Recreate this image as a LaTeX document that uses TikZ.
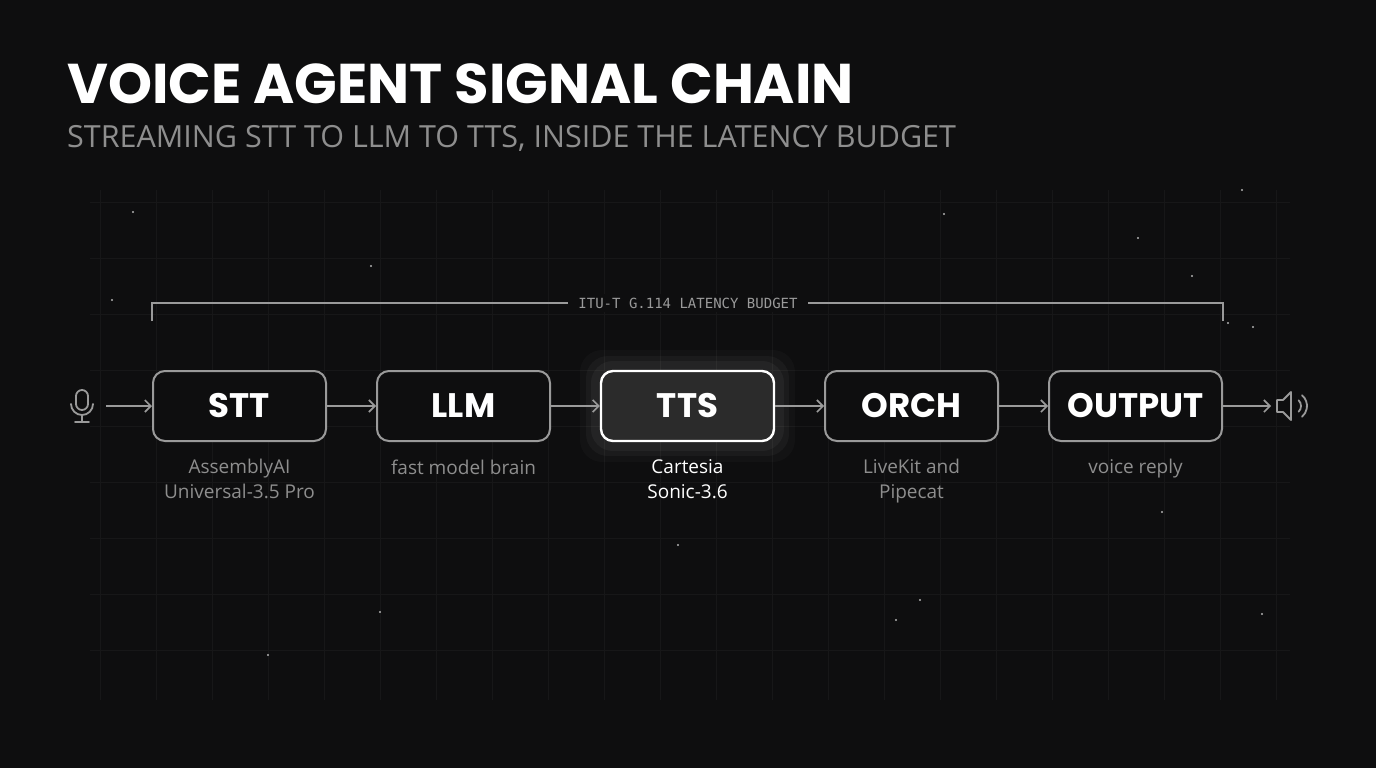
\documentclass[tikz,border=0pt]{standalone}
\usepackage{fontspec}
\setmainfont{Poppins}
\newfontfamily\monofont{DejaVu Sans Mono}
\newfontfamily\bodyfont{Open Sans}
\usetikzlibrary{positioning,calc,arrows.meta}
\definecolor{bgdark}{HTML}{0E0E0F}
\definecolor{gridgray}{HTML}{171718}
\definecolor{edgegray}{HTML}{9A9A9A}
\definecolor{subgray}{HTML}{8E8E8E}
\definecolor{hotfill}{HTML}{2B2B2B}

\tikzset{
  stage/.style={draw=edgegray, line width=2pt, rounded corners=12pt, fill=bgdark,
    minimum width=173pt, minimum height=70pt, text=white,
    font=\fontsize{34}{34}\selectfont\bfseries},
  hot/.style={stage, draw=white, fill=hotfill, line width=2.4pt},
  note/.style={below=14pt of #1, align=center, text=subgray,
    font=\bodyfont\fontsize{19}{25}\selectfont},
  flow/.style={draw=edgegray, line width=1.6pt, -{Straight Barb[length=6pt,width=12pt]}},
  icon/.style={draw=edgegray, line width=1.8pt, line cap=round}
}

\begin{document}
\begin{tikzpicture}[x=1pt,y=-1pt]
  \fill[bgdark] (0,0) rectangle (1376,768);
  \useasboundingbox (0,0) rectangle (1376,768);

  % faint grid
  \foreach \gx in {100,156,...,1290}
    \draw[gridgray, line width=1pt] (\gx,190) -- (\gx,700);
  \foreach \gy in {202,258,...,700}
    \draw[gridgray, line width=1pt] (90,\gy) -- (1290,\gy);

  % stars
  \foreach \sx/\sy in {112/300,133/212,371/266,1242/190,1138/238,944/214,1192/276,
      678/545,380/612,896/620,1162/512,1262/614,268/655,1228/323,1253/327,920/600}
    \fill[gray!60] (\sx,\sy) circle (1.2pt);

  % titles
  \node (title) [anchor=base west, inner sep=0pt, text=white, font=\fontsize{56}{56}\selectfont\bfseries]
    at (67,103) {VOICE AGENT SIGNAL CHAIN};
  \node (subtitle) [anchor=base west, inner sep=0pt, text=subgray, font=\bodyfont\fontsize{30.5}{30}\selectfont]
    at (67,147) {STREAMING STT TO LLM TO TTS, INSIDE THE LATENCY BUDGET};

  % stages
  \foreach \gw/\gh/\go in {215/112/0.025,203/100/0.035,193/90/0.045}
    \node[fill=white, opacity=\go, rounded corners=22pt, minimum width=\gw pt, minimum height=\gh pt] at (687.5,406) {};
  \node (stt) [stage] at (239.5,406) {STT};
  \node (llm) [stage] at (463.5,406) {LLM};
  \node (tts) [hot] at (687.5,406) {TTS};
  \node (orch) [stage] at (911.5,406) {ORCH};
  \node (out) [stage] at (1135.5,406) {OUTPUT};

  \node (sttnote) [note=stt] {AssemblyAI\\Universal-3.5 Pro};
  \node (llmnote) [note=llm] {fast model brain};
  \node (ttsnote) [note=tts, text=white] {Cartesia\\Sonic-3.6};
  \node (orchnote) [note=orch] {LiveKit and\\Pipecat};
  \node (outnote) [note=out] {voice reply};

  % budget bracket
  \coordinate (bl) at (152,321);
  \coordinate (br) at (1223,321);
  \node (budget) [text=edgegray, font=\monofont\fontsize{14}{14}\selectfont,
    fill=bgdark, inner xsep=10pt] at (688,303) {ITU-T G.114 LATENCY BUDGET};
  \draw[edgegray, line width=1.4pt] (bl) |- (budget.west);
  \draw[edgegray, line width=1.4pt] (br) |- (budget.east);

  % icons
  \coordinate (mic) at (82,406);
  \coordinate (spk) at (1293,406);
  \draw[icon, rounded corners=6pt] ($(mic)+(-6,-16)$) rectangle ($(mic)+(6,4)$);
  \draw[icon] ($(mic)+(-11,-2)$) arc[start angle=180, end angle=0, radius=11];
  \draw[icon] ($(mic)+(0,9)$) -- ($(mic)+(0,16)$);
  \draw[icon] ($(mic)+(-7,16)$) -- ($(mic)+(7,16)$);
  \draw[icon, line join=round] ($(spk)+(-16,-6)$) -- ($(spk)+(-10,-6)$) -- ($(spk)+(-2,-14)$)
    -- ($(spk)+(-2,14)$) -- ($(spk)+(-10,6)$) -- ($(spk)+(-16,6)$) -- cycle;
  \draw[icon] ($(spk)+(0,0)+(-45:8)$) arc[start angle=-45, end angle=45, radius=8];
  \draw[icon] ($(spk)+(0,0)+(-50:14)$) arc[start angle=-50, end angle=50, radius=14];

  % flow
  \draw[flow] ($(mic)+(24,0)$) -- (stt.west);
  \draw[flow] (stt) -- (llm);
  \draw[flow] (llm) -- (tts);
  \draw[flow] (tts) -- (orch);
  \draw[flow] (orch) -- (out);
  \draw[flow] (out.east) -- ($(spk)+(-22,0)$);
\end{tikzpicture}
\end{document}
